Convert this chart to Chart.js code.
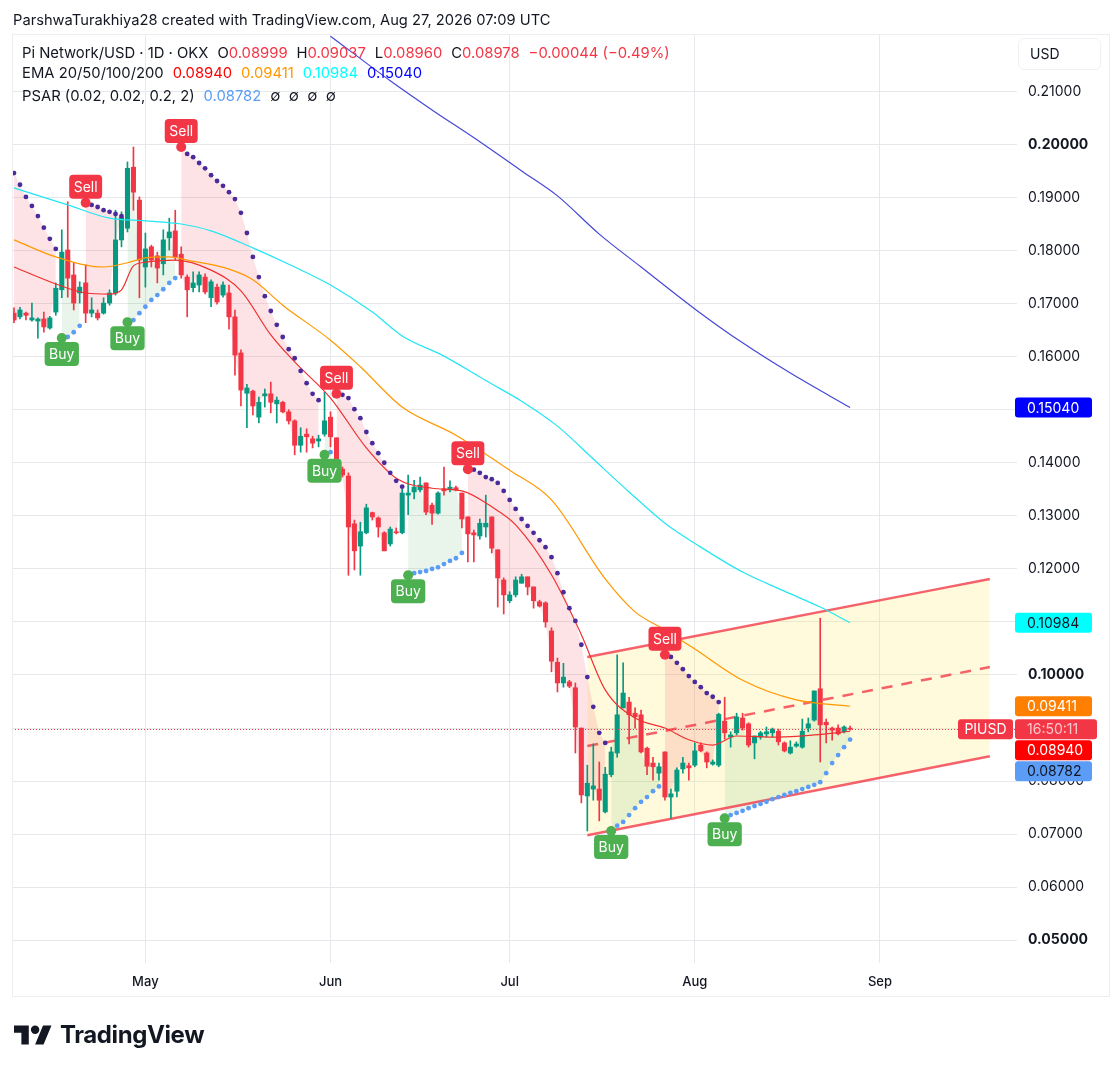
<!DOCTYPE html>
<html>
<head>
<meta charset="utf-8">
<title>Pi Network/USD</title>
<script src="https://cdn.jsdelivr.net/npm/chart.js@4.4.1/dist/chart.umd.min.js"></script>
<style>
  html, body { margin: 0; padding: 0; background: #fff; }
  body { width: 1120px; height: 1072px; position: relative; overflow: hidden;
         font-family: Inter, "Noto Sans", sans-serif; color: #131722; }
  #chart { position: absolute; left: 0; top: 0; }
  .header { position: absolute; left: 13px; top: 10px; font-size: 14.7px; line-height: 20px; }
  .frame { position: absolute; left: 12px; top: 34px; width: 1098px; height: 963px;
           border: 1px solid #eceef2; box-sizing: border-box; pointer-events: none; }
  .legend div { position: absolute; left: 22px; font-size: 14.8px; line-height: 18px; white-space: nowrap; }
  .legend span { margin-left: 9px; }
  .legend span:first-child { margin-left: 0; }
  .usd { position: absolute; left: 1018px; top: 38px; width: 83px; height: 32px; box-sizing: border-box;
         border: 1px solid #f0f1f4; border-radius: 6px; font-size: 14px; line-height: 30px; padding-left: 11px; }
  .logo { position: absolute; left: 14px; top: 1021px; }
  .brand { position: absolute; left: 60px; top: 1020px; font-size: 24px; font-weight: 700;
           line-height: 30px; letter-spacing: -0.4px; }
</style>
</head>
<body>
<canvas id="chart" width="1120" height="1072"></canvas>
<div class="frame"></div>
<div class="header">ParshwaTurakhiya28 created with TradingView.com, Aug 27, 2026 07:09 UTC</div>
<div class="legend" id="legend"></div>
<div class="usd">USD</div>
<svg class="logo" width="38" height="30" viewBox="0 0 36 28">
  <path fill="#131722" d="M14 22H7V11H0V4h14v18zM28 22h-8l7.5-18h8L28 22z"/>
  <circle fill="#131722" cx="20" cy="8" r="4"/>
</svg>
<div class="brand">TradingView</div>
<script>
// daily candles, Apr 9 (day 0) .. Aug 27 (day 140)
const opens = [
  0.1682, 0.1675, 0.1682, 0.1669, 0.1667, 0.1671, 0.1654, 0.1684, 0.1726, 0.1801,
  0.1754, 0.1720, 0.1739, 0.1682, 0.1682, 0.1682, 0.1701, 0.1720, 0.1820, 0.1842,
  0.1957, 0.1895, 0.1769, 0.1807, 0.1790, 0.1775, 0.1824, 0.1837, 0.1793, 0.1750,
  0.1730, 0.1735, 0.1750, 0.1711, 0.1731, 0.1716, 0.1720, 0.1675, 0.1607, 0.1531,
  0.1535, 0.1486, 0.1526, 0.1530, 0.1511, 0.1514, 0.1496, 0.1479, 0.1433, 0.1454,
  0.1445, 0.1441, 0.1454, 0.1486, 0.1447, 0.1388, 0.1375, 0.1285, 0.1243, 0.1268,
  0.1306, 0.1296, 0.1268, 0.1247, 0.1270, 0.1268, 0.1339, 0.1345, 0.1349, 0.1362,
  0.1320, 0.1305, 0.1351, 0.1349, 0.1353, 0.1343, 0.1298, 0.1268, 0.1262, 0.1279,
  0.1298, 0.1236, 0.1179, 0.1140, 0.1151, 0.1173, 0.1185, 0.1166, 0.1138, 0.1136,
  0.1083, 0.1024, 0.0985, 0.0987, 0.0976, 0.0900, 0.0772, 0.0785, 0.0785, 0.0742,
  0.0812, 0.0853, 0.0938, 0.0949, 0.0928, 0.0925, 0.0862, 0.0834, 0.0815, 0.0855,
  0.0770, 0.0781, 0.0823, 0.0829, 0.0830, 0.0868, 0.0853, 0.0832, 0.0830, 0.0913,
  0.0883, 0.0891, 0.0919, 0.0908, 0.0872, 0.0883, 0.0889, 0.0891, 0.0894, 0.0872,
  0.0853, 0.0866, 0.0864, 0.0900, 0.0915, 0.0974, 0.0911, 0.0900, 0.0900, 0.0893,
  0.08999
];
const highs = [
  0.1692, 0.1693, 0.1684, 0.1701, 0.1673, 0.1684, 0.1676, 0.1739, 0.1839, 0.1892,
  0.1776, 0.1741, 0.1773, 0.1711, 0.1688, 0.1711, 0.1726, 0.1876, 0.1873, 0.1967,
  0.1995, 0.1901, 0.1833, 0.1810, 0.1797, 0.1839, 0.1861, 0.1876, 0.1807, 0.1754,
  0.1760, 0.1760, 0.1756, 0.1745, 0.1737, 0.1741, 0.1735, 0.1688, 0.1613, 0.1548,
  0.1537, 0.1524, 0.1539, 0.1552, 0.1524, 0.1516, 0.1500, 0.1481, 0.1466, 0.1464,
  0.1450, 0.1452, 0.1533, 0.1496, 0.1447, 0.1392, 0.1381, 0.1292, 0.1288, 0.1322,
  0.1307, 0.1298, 0.1270, 0.1279, 0.1277, 0.1350, 0.1377, 0.1367, 0.1373, 0.1362,
  0.1324, 0.1345, 0.1392, 0.1366, 0.1356, 0.1343, 0.1298, 0.1273, 0.1294, 0.1339,
  0.1298, 0.1236, 0.1183, 0.1157, 0.1185, 0.1190, 0.1185, 0.1166, 0.1141, 0.1138,
  0.1089, 0.1032, 0.1022, 0.0990, 0.0985, 0.0900, 0.0830, 0.0870, 0.0836, 0.0826,
  0.0864, 0.1038, 0.1023, 0.0958, 0.0938, 0.0934, 0.0864, 0.0845, 0.0834, 0.0855,
  0.0785, 0.0825, 0.0845, 0.0834, 0.0872, 0.0872, 0.0855, 0.0840, 0.0928, 0.0958,
  0.0893, 0.0928, 0.0928, 0.0910, 0.0885, 0.0894, 0.0902, 0.0900, 0.0898, 0.0874,
  0.0876, 0.0874, 0.0917, 0.0919, 0.0970, 0.1107, 0.0917, 0.0902, 0.0906, 0.0904,
  0.09037
];
const lows = [
  0.1664, 0.1671, 0.1669, 0.1667, 0.1635, 0.1646, 0.1652, 0.1678, 0.1711, 0.1712,
  0.1688, 0.1701, 0.1664, 0.1675, 0.1669, 0.1680, 0.1697, 0.1716, 0.1807, 0.1835,
  0.1876, 0.1711, 0.1731, 0.1769, 0.1739, 0.1754, 0.1801, 0.1782, 0.1748, 0.1675,
  0.1722, 0.1722, 0.1718, 0.1694, 0.1699, 0.1712, 0.1652, 0.1565, 0.1507, 0.1466,
  0.1490, 0.1475, 0.1505, 0.1494, 0.1475, 0.1494, 0.1473, 0.1415, 0.1420, 0.1420,
  0.1428, 0.1430, 0.1450, 0.1430, 0.1367, 0.1373, 0.1188, 0.1198, 0.1188, 0.1266,
  0.1292, 0.1260, 0.1234, 0.1243, 0.1266, 0.1266, 0.1302, 0.1332, 0.1345, 0.1302,
  0.1284, 0.1303, 0.1339, 0.1345, 0.1347, 0.1277, 0.1213, 0.1213, 0.1256, 0.1260,
  0.1230, 0.1128, 0.1115, 0.1136, 0.1147, 0.1173, 0.1151, 0.1126, 0.1128, 0.1090,
  0.1006, 0.0968, 0.0977, 0.0976, 0.0853, 0.0759, 0.0706, 0.0764, 0.0725, 0.0740,
  0.0808, 0.0845, 0.0938, 0.0870, 0.0900, 0.0853, 0.0812, 0.0802, 0.0802, 0.0764,
  0.0730, 0.0770, 0.0815, 0.0802, 0.0827, 0.0855, 0.0825, 0.0830, 0.0827, 0.0879,
  0.0864, 0.0887, 0.0896, 0.0864, 0.0842, 0.0879, 0.0883, 0.0883, 0.0868, 0.0855,
  0.0851, 0.0864, 0.0862, 0.0893, 0.0913, 0.0836, 0.0872, 0.0877, 0.0887, 0.0891,
  0.08960
];
const closes = [
  0.1669, 0.1688, 0.1678, 0.1673, 0.1671, 0.1656, 0.1673, 0.1729, 0.1797, 0.1748,
  0.1701, 0.1731, 0.1682, 0.1688, 0.1673, 0.1701, 0.1720, 0.1820, 0.1863, 0.1955,
  0.1910, 0.1782, 0.1803, 0.1782, 0.1767, 0.1820, 0.1835, 0.1788, 0.1754, 0.1726,
  0.1739, 0.1754, 0.1722, 0.1741, 0.1703, 0.1735, 0.1675, 0.1603, 0.1537, 0.1541,
  0.1507, 0.1514, 0.1530, 0.1514, 0.1518, 0.1496, 0.1479, 0.1433, 0.1450, 0.1449,
  0.1437, 0.1445, 0.1479, 0.1449, 0.1373, 0.1377, 0.1279, 0.1234, 0.1270, 0.1315,
  0.1298, 0.1279, 0.1234, 0.1275, 0.1268, 0.1343, 0.1343, 0.1354, 0.1358, 0.1307,
  0.1305, 0.1343, 0.1347, 0.1354, 0.1349, 0.1294, 0.1266, 0.1264, 0.1286, 0.1286,
  0.1239, 0.1183, 0.1151, 0.1151, 0.1179, 0.1185, 0.1166, 0.1140, 0.1130, 0.1100,
  0.1026, 0.0985, 0.0996, 0.0979, 0.0902, 0.0774, 0.0796, 0.0791, 0.0764, 0.0813,
  0.0855, 0.0925, 0.0966, 0.0925, 0.0921, 0.0855, 0.0828, 0.0827, 0.0827, 0.0770,
  0.0776, 0.0821, 0.0834, 0.0825, 0.0857, 0.0857, 0.0836, 0.0836, 0.0926, 0.0891,
  0.0887, 0.0921, 0.0900, 0.0868, 0.0885, 0.0891, 0.0893, 0.0898, 0.0874, 0.0857,
  0.0864, 0.0870, 0.0894, 0.0908, 0.0970, 0.0906, 0.0906, 0.0896, 0.0889, 0.0902,
  0.08978
];

// parabolic SAR dots, one per day
const psar = [
  0.1946, 0.1924, 0.1901, 0.1884, 0.1865, 0.1843, 0.1822, 0.1803,
  0.1635, 0.1637, 0.1646, 0.1658,
  0.1890, 0.1886, 0.1882, 0.1876, 0.1873, 0.1869, 0.1865,
  0.1665, 0.1669, 0.1682, 0.1694, 0.1707, 0.1716, 0.1727, 0.1739, 0.1748,
  0.1995, 0.1982, 0.1976, 0.1965, 0.1955, 0.1942, 0.1931, 0.1922, 0.1910, 0.1897,
  0.1871, 0.1833, 0.1788, 0.1750, 0.1714, 0.1686, 0.1660, 0.1637, 0.1614, 0.1597,
  0.1573, 0.1550, 0.1530, 0.1518,
  0.1415, 0.1420,
  0.1530, 0.1528, 0.1522, 0.1501, 0.1484, 0.1458, 0.1437, 0.1418, 0.1400, 0.1381, 0.1366, 0.1355,
  0.1188, 0.1192, 0.1194, 0.1196, 0.1200, 0.1203, 0.1209, 0.1215, 0.1220, 0.1230,
  0.1388, 0.1387, 0.1381, 0.1373, 0.1369, 0.1362, 0.1347, 0.1330, 0.1313, 0.1294,
  0.1281, 0.1268, 0.1254, 0.1241, 0.1222, 0.1192, 0.1156, 0.1126, 0.1102, 0.1057,
  0.0996, 0.0940, 0.0891, 0.0872,
  0.0706, 0.0716, 0.0723, 0.0736, 0.0749, 0.0761, 0.0770, 0.0781, 0.0790,
  0.1038, 0.1034, 0.1023, 0.1011, 0.0998, 0.0987, 0.0977, 0.0966, 0.0959, 0.0949,
  0.0730, 0.0736, 0.0740, 0.0744, 0.0749, 0.0753, 0.0757, 0.0761, 0.0766, 0.0770,
  0.0774, 0.0778, 0.0781, 0.0785, 0.0789, 0.0793, 0.0798, 0.0815, 0.0834, 0.0849,
  0.0864, 0.08782
];
const buyDays = [8, 19, 52, 66, 100, 119];
const sellDays = [12, 28, 54, 76, 109];

// moving averages at these days
const ema20Days = [0, 7, 12, 16, 18, 20, 22, 27, 33, 38, 43, 47, 53, 59, 64, 70, 75, 80, 84, 90, 95, 99, 104, 109, 113, 117, 121, 128, 134, 140];
const ema20Vals = [0.1769, 0.1737, 0.1720, 0.1718, 0.1726, 0.1771, 0.1778, 0.1782, 0.1763, 0.1724, 0.1641, 0.1590, 0.1522, 0.1428, 0.1371, 0.1352, 0.1347, 0.1317, 0.1283, 0.1189, 0.1076, 0.0972, 0.0919, 0.0900, 0.0878, 0.0868, 0.0885, 0.0883, 0.0887, 0.08940];
const ema50Days = [0, 7, 15, 19, 22, 26, 29, 36, 40, 45, 53, 58, 65, 74, 83, 90, 99, 104, 109, 114, 122, 131, 140];
const ema50Vals = [0.1820, 0.1788, 0.1769, 0.1777, 0.1786, 0.1788, 0.1782, 0.1765, 0.1745, 0.1697, 0.1631, 0.1581, 0.1505, 0.1452, 0.1386, 0.1330, 0.1181, 0.1119, 0.1085, 0.1049, 0.0990, 0.0953, 0.09411];
const ema100Days = [0, 9, 16, 22, 28, 33, 40, 47, 53, 60, 65, 72, 79, 85, 91, 97, 103, 109, 115, 122, 129, 135, 140];
const ema100Vals = [0.1918, 0.1886, 0.1861, 0.1856, 0.1850, 0.1837, 0.1805, 0.1769, 0.1735, 0.1684, 0.1639, 0.1601, 0.1555, 0.1516, 0.1469, 0.1407, 0.1345, 0.1286, 0.1241, 0.1194, 0.1158, 0.1128, 0.10984];
const ema200Days = [53, 63, 70, 78, 85, 91, 98, 105, 114, 122, 130, 140];
const ema200Vals = [0.2204, 0.2120, 0.2065, 0.2005, 0.1950, 0.1903, 0.1831, 0.1769, 0.1690, 0.1626, 0.1569, 0.15040];

// ascending channel (start day, end day)
const channelDays = [96, 163.4];
const channelUpper = [0.1034, 0.1181];
const channelLower = [0.0698, 0.0847];
const channelMid = [0.0866, 0.1015];

const monthDays = [22, 53, 83, 114, 145];
const monthLabels = ['May', 'Jun', 'Jul', 'Aug', 'Sep'];
const priceTicks = [0.05, 0.06, 0.07, 0.08, 0.09, 0.10, 0.11, 0.12, 0.13, 0.14, 0.15, 0.16, 0.17, 0.18, 0.19, 0.20, 0.21];
const emaLast = [0.08940, 0.09411, 0.10984, 0.15040];
const psarLast = 0.08782;
const countdown = '16:50:11';

const UP = '#089981', DOWN = '#f23645', BUYC = '#4caf50';
const EMA_COLORS = ['#ff0000', '#ff9800', '#00ffff', '#0000ff'];
const FONT = 'Inter, "Noto Sans", sans-serif';
const last = closes.length - 1;

// legend overlay
(function buildLegend() {
  const f = v => v.toFixed(5);
  const red = s => `<b style="font-weight:400;color:${DOWN}">${s}</b>`;
  const rows = [
    `<span>Pi Network/USD · 1D · OKX</span><span>O${red(f(opens[last]))}</span><span>H${red(f(highs[last]))}</span>` +
    `<span>L${red(f(lows[last]))}</span><span>C${red(f(closes[last]))}</span><span>${red('−0.00044 (−0.49%)')}</span>`,
    `<span>EMA 20/50/100/200</span>` + emaLast.map((v, k) => `<span style="color:${EMA_COLORS[k]}">${f(v)}</span>`).join(''),
    `<span>PSAR (0.02, 0.02, 0.2, 2)</span><span style="color:#5b9cf6">${f(psarLast)}</span><span>∅&nbsp;&nbsp;∅&nbsp;&nbsp;∅&nbsp;&nbsp;∅</span>`
  ];
  const tops = [44, 64, 87];
  document.getElementById('legend').innerHTML = rows.map((r, k) => `<div style="top:${tops[k]}px">${r}</div>`).join('');
})();

const days = closes.map((_, i) => i);
let trend = 'down';
const trendUp = days.map(i => {
  if (buyDays.includes(i)) trend = 'up';
  if (sellDays.includes(i)) trend = 'down';
  return trend === 'up';
});
const pts = (xs, ys) => xs.map((x, k) => ({ x: x, y: ys[k] }));

const lineBase = { type: 'line', pointRadius: 0, borderWidth: 1.2, cubicInterpolationMode: 'monotone', fill: false };

const datasets = [
  Object.assign({}, lineBase, { data: pts(channelDays, channelUpper), borderColor: 'rgba(242,54,69,0.78)', borderWidth: 2.5,
    fill: { target: 1, above: 'rgba(255,230,80,0.2)', below: 'rgba(255,230,80,0.2)' }, order: 8 }),
  Object.assign({}, lineBase, { data: pts(channelDays, channelLower), borderColor: 'rgba(242,54,69,0.78)', borderWidth: 2.5, order: 8 }),
  Object.assign({}, lineBase, { data: pts(channelDays, channelMid), borderColor: 'rgba(242,54,69,0.78)', borderWidth: 2.5, borderDash: [11, 9], order: 8 }),
  { type: 'bar', data: days.map(i => ({ x: i, y: [lows[i], highs[i]] })), barThickness: 1, grouped: false,
    backgroundColor: days.map(i => closes[i] >= opens[i] ? UP : DOWN), order: 5 },
  { type: 'bar', data: days.map(i => ({ x: i, y: [opens[i], closes[i]] })), barThickness: 4.4, grouped: false, minBarLength: 1,
    backgroundColor: days.map(i => closes[i] >= opens[i] ? UP : DOWN), order: 4 },
  Object.assign({}, lineBase, { data: pts(ema200Days, ema200Vals), borderColor: '#4646d8', order: 3 }),
  Object.assign({}, lineBase, { data: pts(ema100Days, ema100Vals), borderColor: '#22e6f2', order: 3 }),
  Object.assign({}, lineBase, { data: pts(ema50Days, ema50Vals), borderColor: '#ff9800', order: 3 }),
  Object.assign({}, lineBase, { data: pts(ema20Days, ema20Vals), borderColor: '#f03030', order: 3 }),
  { type: 'line', data: days.map(i => ({ x: i, y: trendUp[i] ? null : psar[i] })), spanGaps: false,
    borderColor: 'rgba(0,0,0,0)', borderWidth: 0, pointRadius: 2.4, pointBorderWidth: 0, pointBackgroundColor: '#4b2a9c',
    fill: { target: 11, above: 'rgba(242,54,69,0.14)', below: 'rgba(242,54,69,0.14)' }, order: 1 },
  { type: 'line', data: days.map(i => ({ x: i, y: trendUp[i] ? psar[i] : null })), spanGaps: false,
    borderColor: 'rgba(0,0,0,0)', borderWidth: 0, pointRadius: 2.4, pointBorderWidth: 0, pointBackgroundColor: '#5b9cf6',
    fill: { target: 11, above: 'rgba(76,175,80,0.12)', below: 'rgba(76,175,80,0.12)' }, order: 1 },
  { type: 'line', data: days.map(i => ({ x: i, y: closes[i] })), borderColor: 'rgba(0,0,0,0)', borderWidth: 0,
    pointRadius: 0, fill: false, order: 9 }
];

function drawSignal(ctx, x, y, text, color, below) {
  ctx.font = '14px ' + FONT;
  const w = ctx.measureText(text).width + 9, h = 24;
  const cy = below ? y + 16 : y - 16;
  ctx.fillStyle = color;
  ctx.beginPath();
  ctx.arc(x, y, 5, 0, Math.PI * 2);
  ctx.fill();
  ctx.beginPath();
  ctx.roundRect(x - w / 2, cy - h / 2, w, h, 4);
  ctx.fill();
  ctx.fillStyle = '#fff';
  ctx.textAlign = 'center';
  ctx.textBaseline = 'middle';
  ctx.fillText(text, x, cy + 1);
}

function badge(ctx, left, cy, w, text, bg, fg, align) {
  const h = 20;
  ctx.fillStyle = bg;
  ctx.beginPath();
  ctx.roundRect(left, cy - h / 2, w, h, 3);
  ctx.fill();
  ctx.fillStyle = fg;
  ctx.textBaseline = 'middle';
  ctx.textAlign = align;
  ctx.fillText(text, align === 'center' ? left + w / 2 : left + 12, cy + 1);
}

const overlay = {
  id: 'overlay',
  afterDatasetsDraw(chart) {
    const { ctx, chartArea: a, scales: { x, y } } = chart;
    ctx.save();
    const py = Math.round(y.getPixelForValue(closes[last])) + 0.5;
    ctx.strokeStyle = DOWN;
    ctx.lineWidth = 1;
    ctx.setLineDash([1, 2]);
    ctx.beginPath();
    ctx.moveTo(a.left, py);
    ctx.lineTo(a.right, py);
    ctx.stroke();
    ctx.setLineDash([]);
    sellDays.forEach(d => drawSignal(ctx, x.getPixelForValue(d), y.getPixelForValue(psar[d]), 'Sell', DOWN, false));
    buyDays.forEach(d => drawSignal(ctx, x.getPixelForValue(d), y.getPixelForValue(psar[d]), 'Buy', BUYC, true));
    ctx.restore();
  },
  afterDraw(chart) {
    const { ctx, chartArea: a, scales: { y } } = chart;
    ctx.save();
    ctx.font = '14px ' + FONT;
    const styles = [
      { bg: '#ff0000', fg: '#fff' },
      { bg: '#ff8000', fg: '#fff' },
      { bg: '#00ffff', fg: '#131722' },
      { bg: '#0000ff', fg: '#fff' }
    ];
    const items = emaLast.map((v, k) => ({ v: v, y: y.getPixelForValue(v), bg: styles[k].bg, fg: styles[k].fg }));
    items.push({ v: psarLast, y: y.getPixelForValue(psarLast), bg: '#5b9cf6', fg: '#131722' });
    const price = { v: closes[last], y: y.getPixelForValue(closes[last]), price: true };
    items.push(price);
    items.sort((p, q) => p.y - q.y || (p.price ? -1 : 1));
    const pi = items.indexOf(price), H = 21;
    for (let k = pi + 1; k < items.length; k++) items[k].y = Math.max(items[k].y, items[k - 1].y + H);
    for (let k = pi - 1; k >= 0; k--) items[k].y = Math.min(items[k].y, items[k + 1].y - H);
    items.forEach(it => {
      if (it.price) {
        badge(ctx, a.right - 59, it.y, 55, 'PIUSD', DOWN, '#fff', 'center');
        badge(ctx, a.right - 2, it.y, 82, countdown, DOWN, 'rgba(255,255,255,0.72)', 'left');
      } else {
        badge(ctx, a.right - 2, it.y, 77, it.v.toFixed(5), it.bg, it.fg, 'left');
      }
    });
    ctx.restore();
  }
};

const boldTicks = [0.05, 0.10, 0.20];

Chart.defaults.font.family = FONT;
Chart.defaults.color = '#131722';

new Chart(document.getElementById('chart'), {
  type: 'bar',
  data: { datasets: datasets },
  options: {
    responsive: false,
    animation: false,
    events: [],
    layout: { padding: { left: 12, top: 34, right: 10, bottom: 75 } },
    plugins: {
      legend: { display: false },
      tooltip: { enabled: false },
      filler: { drawTime: 'beforeDatasetsDraw' }
    },
    scales: {
      x: {
        type: 'linear',
        min: -0.335,
        max: 167.95,
        offset: false,
        grid: { color: '#e6e8ec', drawTicks: false, offset: false },
        border: { display: false },
        ticks: {
          autoSkip: false,
          maxRotation: 0,
          padding: 11,
          font: { size: 13, weight: '500' },
          color: '#131722',
          callback: v => monthLabels[monthDays.indexOf(v)]
        },
        afterBuildTicks: s => { s.ticks = monthDays.map(v => ({ value: v })); },
        afterFit: s => { s.height = 34; s.paddingLeft = 0; s.paddingRight = 0; }
      },
      y: {
        type: 'linear',
        position: 'right',
        min: 0.04572,
        max: 0.22081,
        grid: { color: '#e6e8ec', drawTicks: false },
        border: { display: false },
        ticks: {
          padding: 11,
          color: '#131722',
          font: c => {
            const v = c && c.tick ? c.tick.value : 0;
            return { size: 14, weight: boldTicks.some(b => Math.abs(v - b) < 1e-9) ? '700' : '400' };
          },
          callback: v => v.toFixed(5)
        },
        afterBuildTicks: s => { s.ticks = priceTicks.map(v => ({ value: v })); },
        afterFit: s => { s.width = 93; s.paddingTop = 0; s.paddingBottom = 0; }
      }
    }
  },
  plugins: [overlay]
});
</script>
</body>
</html>
